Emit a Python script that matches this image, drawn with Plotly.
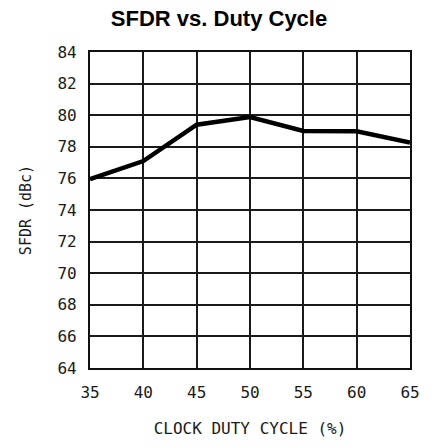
import plotly.graph_objects as go

duty_cycle = [35, 40, 45, 50, 55, 60, 65]
sfdr_dbc = [75.95, 77.1, 79.4, 79.88, 79.0, 78.98, 78.27]
x_ticks = [35, 40, 45, 50, 55, 60, 65]
y_ticks = [64, 66, 68, 70, 72, 74, 76, 78, 80, 82, 84]

W, H = 432, 447

fig = go.Figure()
fig.add_trace(go.Scatter(x=duty_cycle, y=sfdr_dbc, mode="lines",
                         line=dict(color="black", width=4.5), showlegend=False,
                         cliponaxis=False))

mono = "DejaVu Sans Mono"
tick_font = dict(family=mono, size=16, color="#1a1a1a")
fig.update_layout(
    width=W, height=H,
    margin=dict(l=90, r=18, t=52, b=73, pad=0),
    paper_bgcolor="white", plot_bgcolor="white",
    title=dict(text="<b>SFDR vs. Duty Cycle</b>", x=219 / W, xanchor="center",
               y=1 - 18 / H, yanchor="middle",
               font=dict(family="Liberation Sans", size=22, color="black")),
)
fig.update_xaxes(range=[35, 65], tickvals=x_ticks, showgrid=True, gridcolor="#1a1a1a",
                 gridwidth=1.6, showline=True, linecolor="#111", linewidth=2.2, mirror=True,
                 zeroline=False, tickfont=tick_font, ticks="", ticklabelstandoff=9,
                 title=dict(text="CLOCK DUTY CYCLE (%)", standoff=22,
                            font=dict(family=mono, size=16, color="#1a1a1a")))
fig.update_yaxes(range=[64, 84], tickvals=y_ticks, showgrid=True, gridcolor="#1a1a1a",
                 gridwidth=1.6, showline=True, linecolor="#111", linewidth=2.2, mirror=True,
                 zeroline=False, tickfont=tick_font, ticks="", ticklabelstandoff=8,
                 title=dict(text="SFDR (dBc)", standoff=22,
                            font=dict(family=mono, size=15, color="#1a1a1a")))

fig.write_html("out.html", config={"displayModeBar": False},
               post_script="document.body.style.margin='0';document.body.style.overflow='hidden';")
